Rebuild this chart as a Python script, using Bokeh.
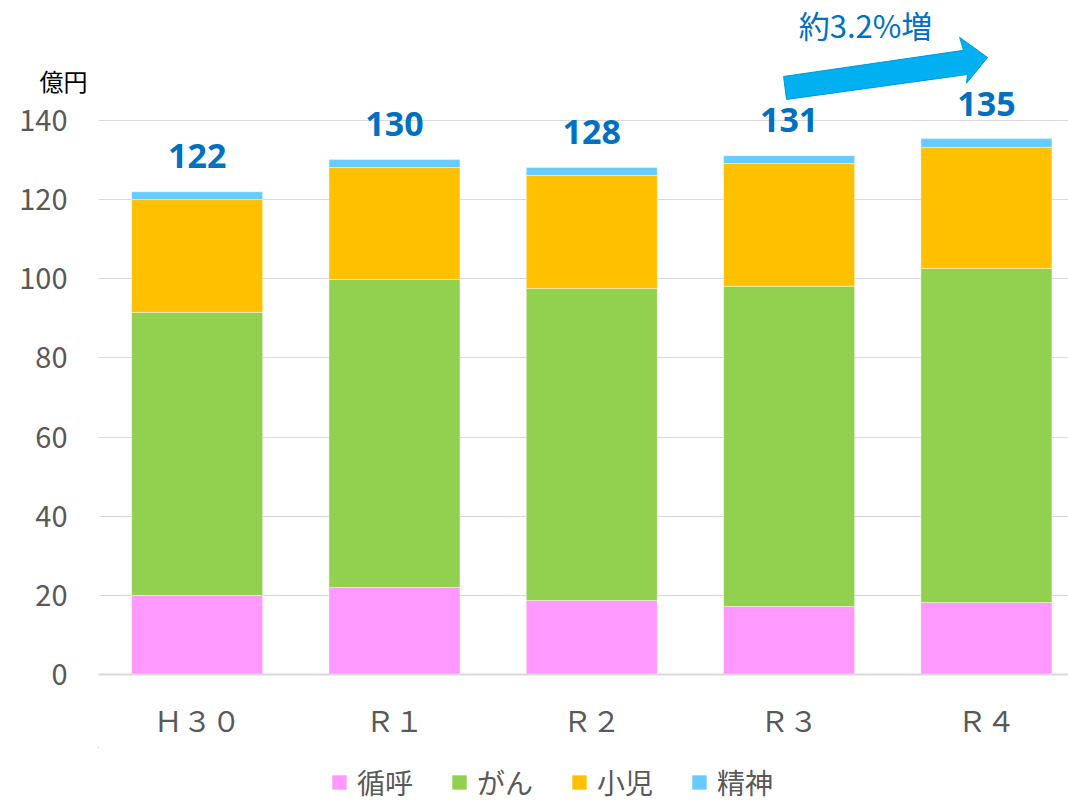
from bokeh.plotting import figure
from bokeh.layouts import column
from bokeh.models import (ColumnDataSource, Range1d, FixedTicker, Label, Legend, LegendItem,
                          LinearAxis)
from bokeh.core.properties import value
from bokeh.embed import file_html
from bokeh.resources import INLINE

# ---- data ----
years = ["Ｈ３０", "Ｒ１", "Ｒ２", "Ｒ３", "Ｒ４"]
junko = [20.0, 22.0, 18.7, 17.2, 18.2]      # 循呼
gan = [71.5, 77.8, 78.8, 80.9, 84.4]        # がん
shoni = [28.5, 28.3, 28.6, 31.0, 30.6]      # 小児
seishin = [2.0, 2.0, 2.0, 2.0, 2.2]         # 精神
totals = [122, 130, 128, 131, 135]
series_names = ["循呼", "がん", "小児", "精神"]
series_keys = ["junko", "gan", "shoni", "seishin"]
colors = ["#FF99FF", "#92D050", "#FFC000", "#66CCFF"]
y_ticks = [0, 20, 40, 60, 80, 100, 120, 140]
growth_text = "約3.2%増"
unit_text = "億円"
unit_level = 150

# ---- decoration geometry (arrow) ----
arrow_xs = [2.972, 3.884, 3.864, 4.006, 3.899, 3.904, 2.987]
arrow_ys = [151.1, 157.7, 161.0, 155.9, 149.4, 151.6, 145.3]

JP = "Noto Sans CJK JP"
GRAY = "#595959"

xs = list(range(len(years)))
src = ColumnDataSource(dict(
    x=xs, junko=junko, gan=gan, shoni=shoni, seishin=seishin,
    total=totals, label=[str(t) for t in totals],
))

p = figure(frame_width=970, frame_height=674, output_backend="svg", toolbar_location=None,
           x_range=Range1d(-0.5, 4.416), y_range=Range1d(0, 170.3),
           y_axis_location=None,
           min_border_left=98, min_border_right=0, min_border_top=0, min_border_bottom=73)
p.outline_line_color = None
p.background_fill_color = "white"
p.border_fill_color = "white"

renderers = p.vbar_stack(series_keys, x="x", width=0.664, source=src,
                         color=colors, line_color="white", line_alpha=0.4, line_width=1)

p.text(x="x", y="total", text="label", source=src, text_align="center",
       text_baseline="alphabetic", y_offset=-36, text_font=value("Noto Sans"),
       text_font_style="bold", text_font_size="34px", text_color="#0070C0")

p.patch(arrow_xs, arrow_ys, fill_color="#00B0F0", line_color="#0099D8", line_width=1)

p.add_layout(Label(x=3.387, y=164.3, text=growth_text, text_align="center",
                   text_baseline="middle", text_font=JP, text_font_size="31px",
                   text_color="#0070C0"))

# x axis
p.xaxis.ticker = FixedTicker(ticks=xs)
p.xaxis.major_label_overrides = {i: years[i] for i in xs}
p.xaxis.major_tick_line_color = None
p.xaxis.minor_tick_line_color = None
p.xaxis.axis_line_color = "#D9D9D9"
p.xaxis.axis_line_width = 2
p.xaxis.major_label_standoff = 17
p.xaxis.major_label_text_font = JP
p.xaxis.major_label_text_font_size = "29px"
p.xaxis.major_label_text_color = GRAY

# inner left axis: unit label only
unit_axis = LinearAxis(ticker=FixedTicker(ticks=[unit_level]),
                       major_label_overrides={unit_level: unit_text},
                       axis_line_color=None, major_tick_line_color=None,
                       minor_tick_line_color=None, major_label_standoff=5,
                       major_label_text_font=JP, major_label_text_font_size="24px",
                       major_label_text_color="black")
p.add_layout(unit_axis, "left")

# outer left axis: values
yaxis = LinearAxis(ticker=FixedTicker(ticks=y_ticks),
                   axis_line_color=None, major_tick_line_color=None,
                   minor_tick_line_color=None, major_label_standoff=-37,
                   major_label_text_font=JP, major_label_text_font_size="29px",
                   major_label_text_color=GRAY)
p.add_layout(yaxis, "left")

p.xgrid.grid_line_color = None
p.ygrid.ticker = FixedTicker(ticks=y_ticks)
p.ygrid.grid_line_color = "#D9D9D9"
p.ygrid.grid_line_width = 1

# ---- legend strip (separate small figure, swatches from the same series) ----
pl = figure(width=1068, height=55, output_backend="svg", toolbar_location=None,
            x_range=Range1d(100, 105), y_range=Range1d(-1000, -500),
            x_axis_location=None, y_axis_location=None,
            min_border_left=0, min_border_right=0, min_border_top=0, min_border_bottom=0)
pl.outline_line_color = None
pl.xgrid.visible = False
pl.ygrid.visible = False
swatches = pl.vbar_stack(series_keys, x="x", width=0.5, source=src, color=colors,
                         line_color=None)

legend = Legend(items=[LegendItem(label=n, renderers=[r]) for n, r in zip(series_names, swatches)],
                orientation="horizontal", location=(232, 0),
                label_text_font=JP, label_text_font_size="28px", label_text_color=GRAY,
                glyph_width=18, glyph_height=18, spacing=37, label_standoff=9,
                border_line_color=None, padding=0, margin=0,
                background_fill_alpha=0)
pl.add_layout(legend, "center")

layout = column(p, pl, spacing=0)
open("out.html", "w").write(file_html(layout, INLINE))
